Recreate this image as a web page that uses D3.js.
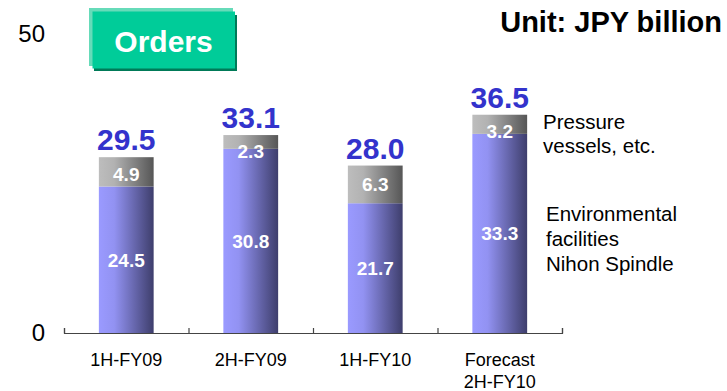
<!DOCTYPE html>
<html>
<head>
<meta charset="utf-8">
<script src="https://cdn.jsdelivr.net/npm/d3@7"></script>
<style>
  html, body { margin: 0; padding: 0; background: #fff; }
  svg { display: block; font-family: "Liberation Sans", Arial, sans-serif; }
</style>
</head>
<body>
<svg id="chart" width="727" height="391"></svg>
<script>
// Orders by half-year, JPY billion
const periods = ["1H-FY09", "2H-FY09", "1H-FY10", "Forecast\n2H-FY10"];
const environmental = [24.5, 30.8, 21.7, 33.3];   // Environmental facilities / Nihon Spindle
const pressure = [4.9, 2.3, 6.3, 3.2];            // Pressure vessels, etc.
const totals = [29.5, 33.1, 28.0, 36.5];
const yTicks = [0, 50];

const svg = d3.select("#chart");
const defs = svg.append("defs");

function hGrad(id, stops) {
  const g = defs.append("linearGradient").attr("id", id)
    .attr("x1", "0%").attr("x2", "100%").attr("y1", "0%").attr("y2", "0%");
  stops.forEach(([o, c]) => g.append("stop").attr("offset", o).attr("stop-color", c));
}
hGrad("gBlue", [["0%", "#9a9aff"], ["28%", "#9292f2"], ["100%", "#3e3e6c"]]);
hGrad("gGray", [["0%", "#bdbdbd"], ["28%", "#b2b2b2"], ["100%", "#565656"]]);

const x0 = 64, x1 = 562;
const x = d3.scaleBand().domain(periods).range([x0, x1]).paddingInner(0.56).paddingOuter(0.28);
const y = d3.scaleLinear().domain([0, 50]).range([333, 34]);

// category boundaries for the baseline ticks
const edges = d3.scaleLinear().domain([0, periods.length]).range([x0, x1]);
svg.append("g")
  .attr("transform", `translate(0,${y(0)})`)
  .call(d3.axisBottom(edges).tickValues(d3.range(periods.length + 1)).tickSize(-5).tickSizeOuter(-5).tickFormat(""))
  .call(g => g.selectAll("path,line").attr("stroke", "#444").attr("stroke-width", 1.2));

// value axis labels only
svg.append("g")
  .attr("transform", `translate(${x0},0)`)
  .call(d3.axisLeft(y).tickValues(yTicks).tickSize(0).tickPadding(19))
  .call(g => g.select(".domain").remove())
  .call(g => g.selectAll("text").attr("font-size", 24).attr("fill", "#000")
    .attr("font-family", "Liberation Sans, Arial, sans-serif"));

const rows = periods.map((p, i) => ({ p, env: environmental[i], pre: pressure[i], total: totals[i] }));
const bw = x.bandwidth();

// Environmental / Nihon Spindle segment
svg.append("g").selectAll("rect").data(rows).join("rect")
  .attr("x", d => x(d.p)).attr("width", bw)
  .attr("y", d => y(d.env)).attr("height", d => y(0) - y(d.env))
  .attr("fill", "url(#gBlue)");

// Pressure vessels segment
svg.append("g").selectAll("rect").data(rows).join("rect")
  .attr("x", d => x(d.p)).attr("width", bw)
  .attr("y", d => y(d.env + d.pre)).attr("height", d => y(d.env) - y(d.env + d.pre))
  .attr("fill", "url(#gGray)");

// segment value labels
svg.append("g").selectAll("text").data(rows).join("text")
  .attr("x", d => x(d.p) + bw / 2)
  .attr("y", d => (y(0) + y(d.env)) / 2)
  .attr("dy", "0.36em")
  .attr("text-anchor", "middle").attr("font-size", 19).attr("font-weight", "bold").attr("fill", "#fff")
  .text(d => d.env.toFixed(1));

svg.append("g").selectAll("text").data(rows).join("text")
  .attr("x", d => x(d.p) + bw / 2)
  .attr("y", d => Math.max((y(d.env) + y(d.env + d.pre)) / 2, y(d.env + d.pre) + 16.5))
  .attr("dy", "0.36em")
  .attr("text-anchor", "middle").attr("font-size", 19).attr("font-weight", "bold").attr("fill", "#fff")
  .text(d => d.pre.toFixed(1));

// totals above bars
svg.append("g").selectAll("text").data(rows).join("text")
  .attr("x", d => x(d.p) + bw / 2)
  .attr("y", d => y(d.total) - 7)
  .attr("text-anchor", "middle").attr("font-size", 30).attr("font-weight", "bold").attr("fill", "#3333cc")
  .text(d => d.total.toFixed(1));

// category labels
svg.append("g").selectAll("text").data(rows).join("text")
  .attr("x", d => x(d.p) + bw / 2)
  .attr("y", 366)
  .attr("text-anchor", "middle").attr("font-size", 18).attr("fill", "#000")
  .each(function (d) {
    d.p.split("\n").forEach((line, k) => {
      d3.select(this).append("tspan").attr("x", x(d.p) + bw / 2).attr("dy", k ? 22 : 0).text(line);
    });
  });

// legend text
const legend = [
  { lines: ["Pressure", "vessels, etc."], x: 543, y: 129, step: 23.5 },
  { lines: ["Environmental", "facilities", "Nihon Spindle"], x: 546, y: 221, step: 25 }
];
legend.forEach(l => {
  const t = svg.append("text").attr("font-size", 20.5).attr("fill", "#000");
  l.lines.forEach((s, k) => t.append("tspan").attr("x", l.x).attr("y", l.y + k * l.step).text(s));
});

// title button
const btn = svg.append("g");
btn.append("rect").attr("x", 94).attr("y", 15).attr("width", 143).attr("height", 56).attr("fill", "#007a58");
btn.append("rect").attr("x", 89).attr("y", 8).attr("width", 144).attr("height", 58).attr("fill", "#66dbb9");
btn.append("rect").attr("x", 92.5).attr("y", 11.5).attr("width", 142.5).attr("height", 57).attr("fill", "#00cc99");
btn.append("text").attr("x", 163.5).attr("y", 52).attr("text-anchor", "middle")
  .attr("font-size", 30).attr("font-weight", "bold").attr("fill", "#fff").text("Orders");

// unit note
svg.append("text").attr("x", 722).attr("y", 32).attr("text-anchor", "end")
  .attr("font-size", 29).attr("font-weight", "bold").attr("fill", "#000").text("Unit: JPY billion");
</script>
</body>
</html>
